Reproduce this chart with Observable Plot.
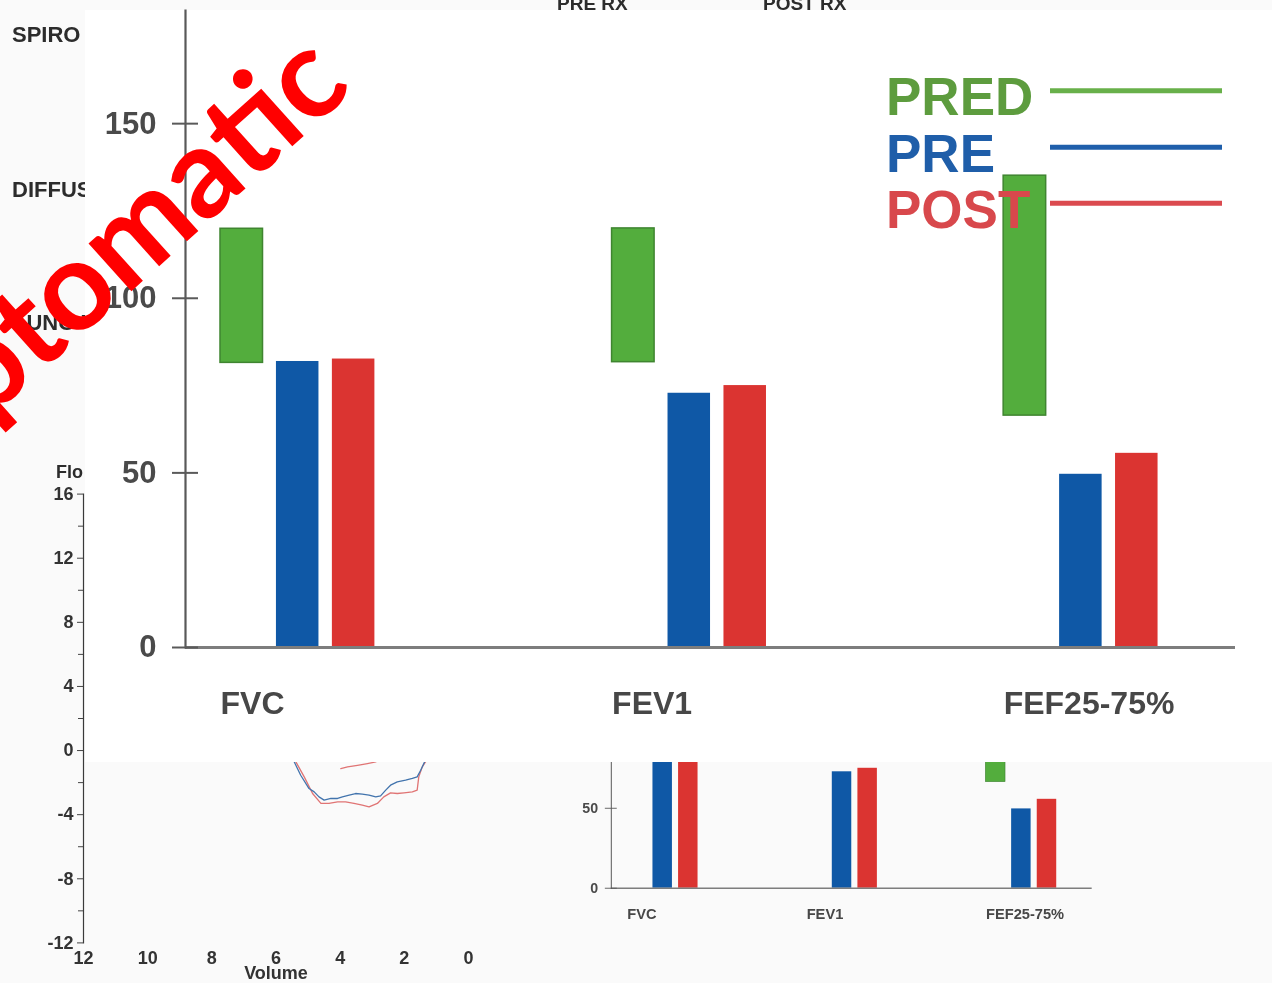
<!DOCTYPE html>
<html>
<head>
<meta charset="utf-8">
<script src="https://cdn.jsdelivr.net/npm/d3@7"></script>
<script src="https://cdn.jsdelivr.net/npm/@observablehq/plot@0.6"></script>
<style>
  body { margin: 0; background: #fafafa; }
  #page { position: relative; width: 1272px; height: 983px; overflow: hidden; background: #fafafa;
          font-family: "Liberation Sans", Arial, sans-serif; }
  .layer { position: absolute; }
  .scan { filter: blur(0.5px); }
  #panel { left: 85px; top: 10px; width: 1187px; height: 752px; background: #ffffff; }
  svg { display: block; }
</style>
</head>
<body>
<div id="page">
  <div id="bg" class="layer scan" style="left:0;top:0;"></div>
  <div id="flow" class="layer scan" style="left:0;top:460px;"></div>
  <div id="small" class="layer scan"></div>
  <div id="panel" class="layer scan">
    <div id="main" class="layer" style="left:0;top:0;"></div>
    <div id="legend" class="layer" style="left:0;top:0;"></div>
  </div>
  <div id="stamp" class="layer" style="left:0;top:0;"></div>
</div>
<script>
// ---------------- data ----------------
const categories = ["FVC", "FEV1", "FEF25-75%"];
const series = ["PRED", "PRE", "POST"];
const predLow = [81.5, 81.7, 66.4];
const predHigh = [119.9, 120.0, 135.1];
const preValues = [81.9, 72.8, 49.6];
const postValues = [82.6, 75.0, 55.6];
const yTicks = [0, 50, 100, 150];

const flowTicks = [16, 12, 8, 4, 0, -4, -8, -12];
const flowMinorTicks = [14, 10, 6, 2, -2, -6, -10];
const volumeTicks = [12, 10, 8, 6, 4, 2, 0];
const preLoopVolume = [5.43, 5.23, 4.97, 4.81, 4.66, 4.50, 4.29, 4.08, 3.93, 3.72, 3.52, 3.31, 3.10, 2.89, 2.74, 2.58, 2.43, 2.22, 1.96, 1.75, 1.60, 1.49, 1.37];
const preLoopFlow   = [-0.71, -1.54, -2.37, -2.58, -2.89, -3.09, -2.99, -2.99, -2.89, -2.78, -2.68, -2.72, -2.78, -2.89, -2.83, -2.47, -2.16, -1.95, -1.85, -1.74, -1.64, -1.23, -0.71];
const postLoopVolume = [5.38, 5.12, 4.86, 4.60, 4.35, 4.08, 3.83, 3.57, 3.31, 3.10, 2.84, 2.64, 2.43, 2.22, 2.01, 1.75, 1.60, 1.55, 1.44, 1.34];
const postLoopFlow   = [-0.71, -1.64, -2.68, -3.30, -3.30, -3.20, -3.20, -3.30, -3.40, -3.51, -3.30, -2.89, -2.64, -2.68, -2.64, -2.58, -2.47, -1.64, -1.02, -0.71];
const postUpperVolume = [3.98, 3.77, 3.46, 3.15, 2.89];
const postUpperFlow   = [-1.12, -1.02, -0.92, -0.81, -0.71];

// ---------------- styles ----------------
const FONT = "'Liberation Sans', Arial, sans-serif";
const colors = { PRED: "#53ad3d", PRE: "#0f58a6", POST: "#db3431" };
const predEdge = "#3f8530";
const legendText = { PRED: "#5d9c3e", PRE: "#1f5ea9", POST: "#d8484c" };
const legendLine = { PRED: "#68b04a", PRE: "#1f5fab", POST: "#db4a4f" };

const rows = categories.map((c, i) => ({
  category: c, predLow: predLow[i], predHigh: predHigh[i], pre: preValues[i], post: postValues[i]
}));
const slotKey = (c, s) => `${c}|${s}`;
const gapSlots = ["g1", "g2", "g3", "g4"];
const slotDomain = categories.flatMap((c, i) => [
  ...series.map(s => slotKey(c, s)),
  ...(i < categories.length - 1 ? gapSlots.map(g => slotKey(c, g)) : [])
]);
const keyToCategory = new Map(categories.map(c => [slotKey(c, series[0]), c]));

function spiroChart(k) {
  const step = 55.94 * k, pInner = 0.24, x0 = 135 * k;
  const bw = step * (1 - pInner);
  return Plot.plot({
    width: 1187 * k, height: 752 * k,
    marginLeft: 100 * k, marginRight: 37 * k, marginTop: 0, marginBottom: 115 * k,
    style: { background: "transparent", fontFamily: FONT, overflow: "visible" },
    x: { type: "band", domain: slotDomain, range: [x0, x0 + step * (slotDomain.length - pInner)],
         paddingInner: pInner, paddingOuter: 0, align: 0, round: false },
    y: { domain: [0, 182.4] },
    marks: [
      Plot.barY(rows, { x: d => slotKey(d.category, "PRED"), y1: "predLow", y2: "predHigh",
                        fill: colors.PRED, stroke: predEdge, strokeWidth: 1.5 * k }),
      Plot.barY(rows, { x: d => slotKey(d.category, "PRE"), y: "pre", fill: colors.PRE }),
      Plot.barY(rows, { x: d => slotKey(d.category, "POST"), y: "post", fill: colors.POST }),
      Plot.ruleY([0], { stroke: "#7d7d7d", strokeWidth: 3 * k }),
      Plot.frame({ anchor: "left", stroke: "#595959", strokeWidth: 2.2 * k }),
      Plot.axisY(yTicks, { tickSize: 26 * k, dx: 13 * k, tickFormat: () => "", stroke: "#5a5a5a",
                           strokeWidth: 2 * k, label: null }),
      Plot.axisY(yTicks, { tickSize: 0, tickPadding: 29 * k, fontSize: 31 * k, fontWeight: "bold",
                           fill: "#4a4a4a", label: null }),
      Plot.axisX([...keyToCategory.keys()], { tickSize: 0, tickPadding: 44 * k,
                           tickFormat: key => keyToCategory.get(key), textAnchor: "start", dx: -bw / 2,
                           fontSize: 32 * k, fontWeight: "bold", fill: "#474747", label: null })
    ]
  });
}

// main chart
document.getElementById("main").append(spiroChart(1));

// small chart (same report, printed smaller underneath)
const ks = 0.458;
const smallDiv = document.getElementById("small");
smallDiv.style.left = (611 - 100 * ks) + "px";
smallDiv.style.top = (888 - 637 * ks) + "px";
smallDiv.append(spiroChart(ks));

// legend (inside panel coordinates)
const legend = d3.select("#legend").append("svg").attr("width", 1187).attr("height", 752)
  .style("overflow", "visible");
const legendBaselines = [105, 162, 218];
const legendLineY = [80.7, 137.3, 193.3];
series.forEach((s, i) => {
  legend.append("text").attr("x", 801).attr("y", legendBaselines[i]).text(s)
    .attr("font-family", FONT).attr("font-weight", "bold").attr("font-size", 53)
    .attr("fill", legendText[s]);
  legend.append("line").attr("x1", 965).attr("x2", 1137).attr("y1", legendLineY[i]).attr("y2", legendLineY[i])
    .attr("stroke", legendLine[s]).attr("stroke-width", 5);
});

// flow-volume chart (scan behind)
const loop = (v, f) => v.map((d, i) => ({ volume: d, flow: f[i] }));
document.getElementById("flow").append(Plot.plot({
  width: 500, height: 520, marginLeft: 83, marginRight: 32, marginTop: 33.6, marginBottom: 37.6,
  style: { background: "transparent", fontFamily: FONT, overflow: "visible" },
  x: { domain: [12, 0] },
  y: { domain: [-12, 16] },
  marks: [
    Plot.frame({ anchor: "left", stroke: "#3a3a3a", strokeWidth: 1.2 }),
    Plot.axisY(flowMinorTicks, { tickSize: 5, tickFormat: () => "", stroke: "#444", label: null }),
    Plot.axisY(flowTicks, { tickSize: 6, tickPadding: 4, fontSize: 18, fontWeight: "bold",
                            tickFormat: d => String(d), fill: "#333", stroke: "#444", label: null }),
    Plot.axisX(volumeTicks, { tickSize: 0, tickPadding: 8, fontSize: 18, fontWeight: "bold", fill: "#333",
                              tickFormat: d => String(d),
                              label: "Volume", labelAnchor: "center", labelOffset: 36, labelArrow: "none" }),
    Plot.line(loop(postLoopVolume, postLoopFlow), { x: "volume", y: "flow", stroke: "#e07474", strokeWidth: 1.3 }),
    Plot.line(loop(postUpperVolume, postUpperFlow), { x: "volume", y: "flow", stroke: "#e07474", strokeWidth: 1.3 }),
    Plot.line(loop(preLoopVolume, preLoopFlow), { x: "volume", y: "flow", stroke: "#4274ad", strokeWidth: 1.3 })
  ]
}));

// scanned report texts behind the panel
const bg = d3.select("#bg").append("svg").attr("width", 1272).attr("height", 983);
const bgTexts = [
  { t: "SPIRO", x: 12, y: 42, s: 22 },
  { t: "DIFFUS", x: 12, y: 197, s: 22 },
  { t: "LUNG V", x: 13, y: 330, s: 22 },
  { t: "Flo", x: 56, y: 478, s: 18 },
  { t: "PRE RX", x: 557, y: 10, s: 19 },
  { t: "POST RX", x: 763, y: 10, s: 19 }
];
bgTexts.forEach(d => bg.append("text").attr("x", d.x).attr("y", d.y).text(d.t)
  .attr("font-family", FONT).attr("font-weight", "bold").attr("font-size", d.s).attr("fill", "#2c2c2c"));

// red stamp overlay
const stamp = d3.select("#stamp").append("svg").attr("width", 1272).attr("height", 983);
stamp.append("text").attr("transform", "translate(-14,422) rotate(-42)")
  .attr("font-family", "Lato, 'Open Sans', sans-serif").attr("font-weight", 700).attr("font-size", 125)
  .attr("fill", "#ff0000").text("ptomatic");
</script>
</body>
</html>
